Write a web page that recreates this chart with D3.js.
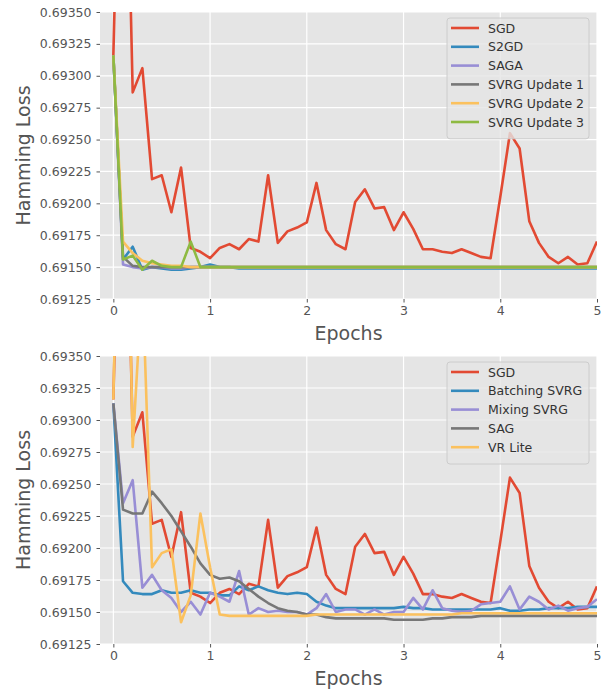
<!DOCTYPE html>
<html>
<head>
<meta charset="utf-8">
<script src="https://d3js.org/d3.v7.min.js"></script>
<style>
  body { margin: 0; background: #fff; }
  text { font-family: "DejaVu Sans", sans-serif; }
</style>
</head>
<body>
<div id="chart"></div>
<script>
// epochs, sampled every 0.1
var epochs = d3.range(51).map(function(i){ return i / 10; });
var yTicks = [0.69125, 0.69150, 0.69175, 0.69200, 0.69225, 0.69250, 0.69275, 0.69300, 0.69325, 0.69350];
var xTicks = [0, 1, 2, 3, 4, 5];

var sgd = [0.69316, 0.6962, 0.69287, 0.69306, 0.69219, 0.69222, 0.69193, 0.69228, 0.69165, 0.69162,
           0.69157, 0.69165, 0.69168, 0.69164, 0.69172, 0.69170, 0.69222, 0.69169, 0.69178, 0.69181,
           0.69185, 0.69216, 0.69179, 0.69168, 0.69164, 0.69201, 0.69211, 0.69196, 0.69197, 0.69179,
           0.69193, 0.69180, 0.69164, 0.69164, 0.69162, 0.69161, 0.69164, 0.69161, 0.69158, 0.69157,
           0.69205, 0.69255, 0.69243, 0.69186, 0.69169, 0.69158, 0.69153, 0.69158, 0.69152, 0.69153,
           0.69170];

// top panel
var s2gd = [0.69316, 0.69156, 0.69166, 0.69148, 0.69150, 0.69149, 0.69148, 0.69148, 0.69149, 0.69150,
            0.69152, 0.69150, 0.69150, 0.69149, 0.69149, 0.69149, 0.69149, 0.69149, 0.69149, 0.69149,
            0.69149, 0.69149, 0.69149, 0.69149, 0.69149, 0.69149, 0.69149, 0.69149, 0.69149, 0.69149,
            0.69149, 0.69149, 0.69149, 0.69149, 0.69149, 0.69149, 0.69149, 0.69149, 0.69149, 0.69149,
            0.69149, 0.69149, 0.69149, 0.69149, 0.69149, 0.69149, 0.69149, 0.69149, 0.69149, 0.69149,
            0.69149];
var saga = [0.69316, 0.69152, 0.69150, 0.69149, 0.69150, 0.69150, 0.69149, 0.69149, 0.69150, 0.69150,
            0.69150, 0.69150, 0.69150, 0.69150, 0.69150, 0.69150, 0.69150, 0.69150, 0.69150, 0.69150,
            0.69150, 0.69150, 0.69150, 0.69150, 0.69150, 0.69150, 0.69150, 0.69150, 0.69150, 0.69150,
            0.69150, 0.69150, 0.69150, 0.69150, 0.69150, 0.69150, 0.69150, 0.69150, 0.69150, 0.69150,
            0.69150, 0.69150, 0.69150, 0.69150, 0.69150, 0.69150, 0.69150, 0.69150, 0.69150, 0.69150,
            0.69150];
var svrg1 = [0.69316, 0.69158, 0.69151, 0.69150, 0.69150, 0.69150, 0.69150, 0.69150, 0.69150, 0.69150,
             0.69150, 0.69150, 0.69150, 0.69150, 0.69150, 0.69150, 0.69150, 0.69150, 0.69150, 0.69150,
             0.69150, 0.69150, 0.69150, 0.69150, 0.69150, 0.69150, 0.69150, 0.69150, 0.69150, 0.69150,
             0.69150, 0.69150, 0.69150, 0.69150, 0.69150, 0.69150, 0.69150, 0.69150, 0.69150, 0.69150,
             0.69150, 0.69150, 0.69150, 0.69150, 0.69150, 0.69150, 0.69150, 0.69150, 0.69150, 0.69150,
             0.69150];
var svrg2 = [0.69316, 0.69170, 0.69161, 0.69155, 0.69153, 0.69152, 0.69151, 0.69151, 0.69150, 0.69150,
             0.69150, 0.69150, 0.69150, 0.69150, 0.69150, 0.69150, 0.69150, 0.69150, 0.69150, 0.69150,
             0.69150, 0.69150, 0.69150, 0.69150, 0.69150, 0.69150, 0.69150, 0.69150, 0.69150, 0.69150,
             0.69150, 0.69150, 0.69150, 0.69150, 0.69150, 0.69150, 0.69150, 0.69150, 0.69150, 0.69150,
             0.69150, 0.69150, 0.69150, 0.69150, 0.69150, 0.69150, 0.69150, 0.69150, 0.69150, 0.69150,
             0.69150];
var svrg3 = [0.69316, 0.69156, 0.69159, 0.69148, 0.69155, 0.69151, 0.69150, 0.69150, 0.69170, 0.69150,
             0.69150, 0.69150, 0.69150, 0.69150, 0.69150, 0.69150, 0.69150, 0.69150, 0.69150, 0.69150,
             0.69150, 0.69150, 0.69150, 0.69150, 0.69150, 0.69150, 0.69150, 0.69150, 0.69150, 0.69150,
             0.69150, 0.69150, 0.69150, 0.69150, 0.69150, 0.69150, 0.69150, 0.69150, 0.69150, 0.69150,
             0.69150, 0.69150, 0.69150, 0.69150, 0.69150, 0.69150, 0.69150, 0.69150, 0.69150, 0.69150,
             0.69150];

// bottom panel
var batching = [0.69313, 0.69174, 0.69165, 0.69164, 0.69164, 0.69167, 0.69165, 0.69165, 0.69167, 0.69165,
                0.69165, 0.69163, 0.69163, 0.69170, 0.69167, 0.69170, 0.69167, 0.69165, 0.69164, 0.69165,
                0.69164, 0.69158, 0.69155, 0.69153, 0.69153, 0.69153, 0.69153, 0.69153, 0.69153, 0.69153,
                0.69154, 0.69153, 0.69153, 0.69152, 0.69152, 0.69152, 0.69152, 0.69152, 0.69152, 0.69152,
                0.69153, 0.69151, 0.69151, 0.69152, 0.69152, 0.69153, 0.69153, 0.69153, 0.69154, 0.69154,
                0.69154];
var mixing = [0.69313, 0.69235, 0.69253, 0.69169, 0.69179, 0.69167, 0.69161, 0.69150, 0.69158, 0.69148,
              0.69165, 0.69162, 0.69158, 0.69182, 0.69148, 0.69153, 0.69150, 0.69151, 0.69150, 0.69150,
              0.69148, 0.69153, 0.69164, 0.69150, 0.69152, 0.69152, 0.69148, 0.69152, 0.69148, 0.69150,
              0.69150, 0.69161, 0.69152, 0.69167, 0.69153, 0.69151, 0.69150, 0.69151, 0.69156, 0.69157,
              0.69158, 0.69170, 0.69152, 0.69162, 0.69158, 0.69152, 0.69155, 0.69151, 0.69153, 0.69154,
              0.69160];
var sag = [0.69313, 0.69230, 0.69227, 0.69227, 0.69244, 0.69235, 0.69225, 0.69213, 0.69201, 0.69188,
           0.69179, 0.69176, 0.69177, 0.69174, 0.69168, 0.69162, 0.69157, 0.69153, 0.69151, 0.69150,
           0.69148, 0.69148, 0.69146, 0.69145, 0.69145, 0.69145, 0.69145, 0.69145, 0.69145, 0.69144,
           0.69144, 0.69144, 0.69144, 0.69145, 0.69145, 0.69146, 0.69146, 0.69146, 0.69147, 0.69147,
           0.69147, 0.69147, 0.69147, 0.69147, 0.69147, 0.69147, 0.69147, 0.69147, 0.69147, 0.69147,
           0.69147];
var vrLite = [0.69316, 0.6968, 0.69279, 0.6941, 0.69185, 0.69196, 0.69199, 0.69142, 0.69163, 0.69227,
              0.69185, 0.69148, 0.69147, 0.69147, 0.69147, 0.69147, 0.69147, 0.69147, 0.69147, 0.69147,
              0.69147, 0.69148, 0.69148, 0.69148, 0.69148, 0.69148, 0.69148, 0.69148, 0.69148, 0.69148,
              0.69148, 0.69148, 0.69148, 0.69148, 0.69148, 0.69148, 0.69149, 0.69149, 0.69149, 0.69149,
              0.69149, 0.69149, 0.69149, 0.69149, 0.69149, 0.69149, 0.69149, 0.69149, 0.69149, 0.69149,
              0.69149];

var topSeries = [
  {name: "SGD", color: "#E24A33", values: sgd},
  {name: "S2GD", color: "#348ABD", values: s2gd},
  {name: "SAGA", color: "#988ED5", values: saga},
  {name: "SVRG Update 1", color: "#777777", values: svrg1},
  {name: "SVRG Update 2", color: "#FBC15E", values: svrg2},
  {name: "SVRG Update 3", color: "#8EBA42", values: svrg3}
];
var bottomSeries = [
  {name: "SGD", color: "#E24A33", values: sgd},
  {name: "Batching SVRG", color: "#348ABD", values: batching},
  {name: "Mixing SVRG", color: "#988ED5", values: mixing},
  {name: "SAG", color: "#777777", values: sag},
  {name: "VR Lite", color: "#FBC15E", values: vrLite}
];

var W = 607, H = 692;
var svg = d3.select("#chart").append("svg")
  .attr("width", W).attr("height", H);

function drawPanel(series, top, bottom, id){
  var left = 100, right = 597;
  var x = d3.scaleLinear().domain([-0.138, 5]).range([left, right]);
  var y = d3.scaleLinear().domain([0.69125, 0.69350]).range([bottom, top]);

  var g = svg.append("g");
  g.append("rect")
    .attr("x", left).attr("y", top)
    .attr("width", right - left).attr("height", bottom - top)
    .attr("fill", "#E5E5E5");

  // grid
  g.selectAll(".ygrid").data(yTicks).enter().append("line")
    .attr("x1", left).attr("x2", right)
    .attr("y1", function(d){ return y(d); }).attr("y2", function(d){ return y(d); })
    .attr("stroke", "#fff").attr("stroke-width", 1.2);
  g.selectAll(".xgrid").data(xTicks).enter().append("line")
    .attr("y1", top).attr("y2", bottom)
    .attr("x1", function(d){ return x(d); }).attr("x2", function(d){ return x(d); })
    .attr("stroke", "#fff").attr("stroke-width", 1.2);

  // axes
  var yAxis = g.append("g").attr("transform", "translate(" + left + ",0)")
    .call(d3.axisLeft(y).tickValues(yTicks).tickFormat(d3.format(".5f")).tickSize(3.5).tickPadding(5));
  var xAxis = g.append("g").attr("transform", "translate(0," + bottom + ")")
    .call(d3.axisBottom(x).tickValues(xTicks).tickFormat(d3.format("d")).tickSize(3.5).tickPadding(4));
  [yAxis, xAxis].forEach(function(a){
    a.select(".domain").remove();
    a.selectAll("line").attr("stroke", "#555");
    a.selectAll("text").attr("fill", "#555").style("font-size", "12.5px")
      .style("font-family", "DejaVu Sans");
  });

  // lines
  g.append("clipPath").attr("id", id)
    .append("rect").attr("x", left).attr("y", top)
    .attr("width", right - left).attr("height", bottom - top);
  var line = d3.line()
    .x(function(d, i){ return x(epochs[i]); })
    .y(function(d){ return y(d); });
  g.append("g").attr("clip-path", "url(#" + id + ")")
    .selectAll("path").data(series).enter().append("path")
    .attr("d", function(s){ return line(s.values); })
    .attr("fill", "none")
    .attr("stroke", function(s){ return s.color; })
    .attr("stroke-width", 2.6)
    .attr("stroke-linejoin", "round");

  // labels
  g.append("text")
    .attr("transform", "translate(30," + ((top + bottom) / 2) + ") rotate(-90)")
    .attr("text-anchor", "middle")
    .attr("fill", "#555").style("font-size", "19px")
    .text("Hamming Loss");
  g.append("text")
    .attr("x", (left + right) / 2).attr("y", bottom + 41)
    .attr("text-anchor", "middle")
    .attr("fill", "#555").style("font-size", "19px")
    .text("Epochs");

  // legend
  var lx = 447, ly = top + 6, rowH = 18.8;
  var lw = 142, lh = series.length * rowH + 8;
  var leg = g.append("g");
  leg.append("rect")
    .attr("x", lx).attr("y", ly).attr("width", lw).attr("height", lh)
    .attr("rx", 3)
    .attr("fill", "#E5E5E5").attr("fill-opacity", 0.8)
    .attr("stroke", "#cccccc").attr("stroke-width", 1);
  series.forEach(function(s, i){
    var cy = ly + 10 + i * rowH;
    leg.append("line")
      .attr("x1", lx + 4).attr("x2", lx + 32)
      .attr("y1", cy).attr("y2", cy)
      .attr("stroke", s.color).attr("stroke-width", 2.6);
    leg.append("text")
      .attr("x", lx + 41).attr("y", cy + 4.5)
      .attr("fill", "#333").style("font-size", "12.5px")
      .text(s.name);
  });
}

drawPanel(topSeries, 12, 299, "clipTop");
drawPanel(bottomSeries, 356, 644, "clipBottom");
</script>
</body>
</html>
